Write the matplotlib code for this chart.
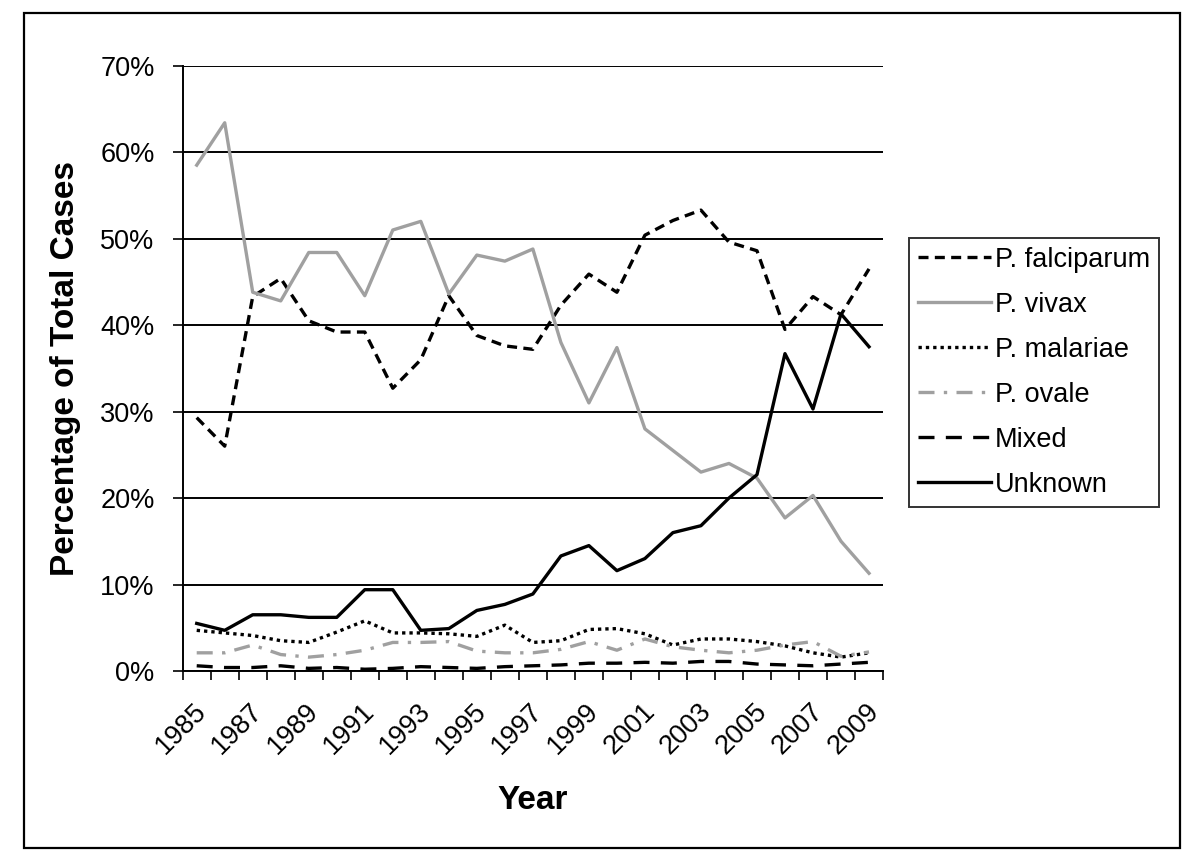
import matplotlib
matplotlib.use("Agg")
import matplotlib.pyplot as plt
from matplotlib.patches import Rectangle
from matplotlib.ticker import FixedLocator, FuncFormatter
from matplotlib.transforms import ScaledTranslation

plt.rcParams['font.family'] = ['Liberation Sans', 'DejaVu Sans']

years = list(range(1985, 2010))
falciparum = [29.3, 26.0, 43.3, 45.4, 40.5, 39.2, 39.2, 32.7, 36.0, 43.4, 38.8, 37.6, 37.2,
              42.3, 45.9, 43.8, 50.4, 52.1, 53.3, 49.6, 48.6, 39.5, 43.3, 41.2, 46.5]
vivax = [58.5, 63.4, 43.8, 42.8, 48.4, 48.4, 43.4, 51.0, 52.0, 43.6, 48.1, 47.4, 48.8,
         38.0, 31.0, 37.4, 28.0, 25.5, 23.0, 24.0, 22.3, 17.7, 20.3, 15.0, 11.3]
malariae = [4.7, 4.4, 4.1, 3.5, 3.3, 4.5, 5.8, 4.4, 4.4, 4.3, 4.0, 5.3, 3.3,
            3.5, 4.8, 4.9, 4.3, 3.0, 3.7, 3.7, 3.4, 2.9, 2.1, 1.6, 2.1]
ovale = [2.1, 2.1, 3.0, 1.9, 1.6, 1.9, 2.4, 3.3, 3.3, 3.4, 2.3, 2.1, 2.1,
         2.5, 3.4, 2.4, 3.7, 2.8, 2.4, 2.1, 2.4, 3.0, 3.4, 1.7, 2.2]
mixed = [0.6, 0.4, 0.4, 0.6, 0.3, 0.4, 0.2, 0.3, 0.5, 0.4, 0.3, 0.5, 0.6,
         0.7, 0.9, 0.9, 1.0, 0.9, 1.1, 1.1, 0.8, 0.7, 0.6, 0.8, 1.0]
unknown = [5.5, 4.7, 6.5, 6.5, 6.2, 6.2, 9.4, 9.4, 4.7, 4.9, 7.0, 7.7, 8.9,
           13.3, 14.5, 11.6, 13.0, 16.0, 16.8, 20.0, 22.7, 36.7, 30.3, 41.3, 37.5]

series_names = ["P. falciparum", "P. vivax", "P. malariae", "P. ovale", "Mixed", "Unknown"]

fig = plt.figure(figsize=(12, 8.67), dpi=100)
ax = fig.add_axes([0.15225, 0.2261, 0.5836, 0.6981])

x = list(range(len(years)))
lw = 2.4
gray = '#a0a0a0'
ax.plot(x, falciparum, color='black', lw=lw, linestyle=(0, (3.0, 1.9)), label=series_names[0])
ax.plot(x, vivax, color=gray, lw=lw, linestyle='-', label=series_names[1])
ax.plot(x, malariae, color='black', lw=lw, linestyle=(0, (1.0, 1.2)), dash_capstyle='butt', label=series_names[2])
ax.plot(x, ovale, color=gray, lw=lw, linestyle=(0, (4.8, 2.8, 1.0, 2.8)), label=series_names[3])
ax.plot(x, mixed, color='black', lw=lw, linestyle=(0, (4.8, 3.4)), label=series_names[4])
ax.plot(x, unknown, color='black', lw=lw, linestyle='-', label=series_names[5])

ax.set_xlim(-0.5, len(years) - 0.5)
ax.set_ylim(0, 70)

# y axis
ax.set_yticks(range(0, 71, 10))
ax.yaxis.set_major_formatter(FuncFormatter(lambda v, p: f"{int(v)}%"))
ax.tick_params(axis='y', which='major', direction='out', length=7.2, width=1.2,
               pad=13, labelsize=19.5, colors='black')
ax.grid(axis='y', color='black', lw=1.4)
ax.set_axisbelow(True)

# x axis: ticks at category boundaries, labels every other year
ax.xaxis.set_minor_locator(FixedLocator([i - 0.5 for i in range(len(years) + 1)]))
ax.set_xticks(x[::2])
ax.set_xticklabels([str(y) for y in years[::2]])
ax.tick_params(axis='x', which='minor', direction='out', length=6.5, width=1.2)
ax.tick_params(axis='x', which='major', length=0, pad=12, labelsize=19.5)
offset = ScaledTranslation(6 / 100, -20 / 100, fig.dpi_scale_trans)
for lab in ax.get_xticklabels():
    lab.set_rotation(45)
    lab.set_ha('right')
    lab.set_va('center')
    lab.set_rotation_mode('anchor')
    lab.set_transform(lab.get_transform() + offset)

for s in ['top', 'right']:
    ax.spines[s].set_visible(False)
for s in ['left', 'bottom']:
    ax.spines[s].set_linewidth(1.4)
    ax.spines[s].set_color('black')

ax.set_ylabel("Percentage of Total Cases", fontsize=24, fontweight='bold', labelpad=14)
ax.set_xlabel("Year", fontsize=24, fontweight='bold', labelpad=18)

leg = fig.legend(loc='upper left', bbox_to_anchor=(909 / 1200, 1 - 238 / 867),
                 fontsize=19.5, frameon=True, fancybox=False, edgecolor='black',
                 handlelength=2.7, handletextpad=0.15, labelspacing=0.70,
                 borderpad=0.33, borderaxespad=0)
leg.get_frame().set_linewidth(1.4)

fig.patches.append(Rectangle((24 / 1200, 1 - 848 / 867), (1180 - 24) / 1200, (848 - 13) / 867,
                             transform=fig.transFigure, fill=False, edgecolor='black', lw=1.6))

fig.savefig("out.png", dpi=100, facecolor='white')
